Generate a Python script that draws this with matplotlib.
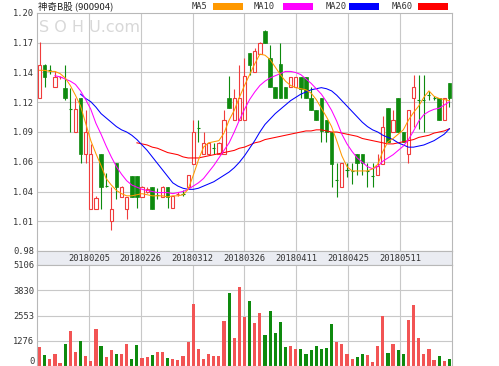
import numpy as np
import matplotlib
matplotlib.use('Agg')
from matplotlib import pyplot as plt
from matplotlib.patches import Rectangle

# daily candles, 81 trading days
opens = [
    1.121, 1.152, 1.148, 1.132, 1.140, 1.131, 1.112, 1.090, 1.121, 1.070,
    1.019, 1.019, 1.070, 1.041, 1.008, 1.061, 1.0295, 1.019, 1.049, 1.049,
    1.0295, 1.035, 1.039, 1.033, 1.030, 1.039, 1.020, 1.032, 1.034, 1.039,
    1.060, 1.095, 1.070, 1.070, 1.076, 1.070, 1.070, 1.121, 1.101, 1.101,
    1.101, 1.163, 1.145, 1.162, 1.183, 1.158, 1.132, 1.153, 1.132, 1.132,
    1.132, 1.141, 1.141, 1.121, 1.110, 1.121, 1.101, 1.090, 1.047, 1.039,
    1.056, 1.055, 1.070, 1.070, 1.055, 1.050, 1.050, 1.060, 1.112, 1.090,
    1.121, 1.090, 1.070, 1.121, 1.121, 1.121, 1.125, 1.122, 1.121, 1.101,
    1.135]
closes = [
    1.152, 1.141, 1.147, 1.141, 1.141, 1.121, 1.111, 1.111, 1.070, 1.090,
    1.070, 1.029, 1.039, 1.040, 1.019, 1.039, 1.039, 1.0295, 1.0295, 1.0295,
    1.039, 1.037, 1.019, 1.032, 1.039, 1.030, 1.031, 1.033, 1.033, 1.050,
    1.090, 1.094, 1.080, 1.080, 1.075, 1.080, 1.101, 1.112, 1.121, 1.121,
    1.142, 1.152, 1.165, 1.172, 1.172, 1.132, 1.121, 1.121, 1.121, 1.141,
    1.141, 1.130, 1.121, 1.110, 1.101, 1.091, 1.090, 1.060, 1.046, 1.061,
    1.055, 1.054, 1.061, 1.061, 1.054, 1.049, 1.059, 1.095, 1.081, 1.101,
    1.090, 1.081, 1.110, 1.132, 1.120, 1.120, 1.124, 1.1215, 1.101, 1.121,
    1.121]
highs = [
    1.173, 1.153, 1.152, 1.146, 1.142, 1.152, 1.131, 1.121, 1.121, 1.110,
    1.079, 1.031, 1.070, 1.052, 1.039, 1.061, 1.040, 1.030, 1.049, 1.049,
    1.040, 1.039, 1.039, 1.038, 1.040, 1.039, 1.031, 1.035, 1.036, 1.050,
    1.101, 1.101, 1.090, 1.080, 1.080, 1.081, 1.110, 1.142, 1.130, 1.152,
    1.158, 1.163, 1.168, 1.173, 1.184, 1.170, 1.132, 1.172, 1.132, 1.141,
    1.141, 1.141, 1.141, 1.132, 1.110, 1.121, 1.101, 1.090, 1.061, 1.061,
    1.061, 1.061, 1.070, 1.070, 1.061, 1.061, 1.070, 1.105, 1.112, 1.110,
    1.121, 1.090, 1.110, 1.143, 1.143, 1.143, 1.128, 1.123, 1.121, 1.121,
    1.135]
lows = [
    1.121, 1.132, 1.144, 1.132, 1.139, 1.120, 1.090, 1.090, 1.061, 1.061,
    1.019, 1.019, 1.019, 1.039, 0.999, 1.028, 1.0295, 1.010, 1.0295, 1.020,
    1.0295, 1.034, 1.019, 1.028, 1.030, 1.020, 1.020, 1.031, 1.031, 1.039,
    1.060, 1.081, 1.070, 1.070, 1.070, 1.070, 1.070, 1.112, 1.101, 1.101,
    1.101, 1.143, 1.145, 1.162, 1.172, 1.132, 1.121, 1.121, 1.121, 1.132,
    1.132, 1.121, 1.121, 1.110, 1.101, 1.081, 1.081, 1.039, 1.030, 1.039,
    1.048, 1.042, 1.050, 1.050, 1.039, 1.039, 1.050, 1.060, 1.081, 1.090,
    1.090, 1.081, 1.061, 1.095, 1.093, 1.090, 1.120, 1.120, 1.101, 1.101,
    1.113]
volumes = [
    960, 560, 340, 625, 170, 1100, 1775, 710, 1270, 510,
    255, 1860, 1015, 455, 795, 590, 590, 1100, 340, 1050,
    420, 455, 560, 710, 710, 420, 340, 290, 510, 1220,
    3130, 880, 340, 625, 510, 510, 2280, 3670, 1440, 4005,
    2485, 3300, 2150, 2680, 1590, 2770, 1690, 2230, 960, 1000,
    845, 845, 630, 795, 1000, 880, 930, 2110, 1215, 1100,
    590, 340, 455, 630, 575, 200, 1030, 2530, 680, 1135,
    795, 630, 2310, 3070, 1420, 630, 880, 290, 490, 240,
    375]
# 1 = up day (red volume bar), 0 = down day (green)
vol_up = [
    1, 0, 1, 1, 1, 0, 1, 1, 0, 1,
    1, 1, 0, 1, 1, 0, 1, 1, 0, 0,
    1, 1, 0, 1, 1, 0, 1, 1, 1, 1,
    1, 1, 1, 1, 1, 1, 1, 0, 1, 1,
    1, 0, 1, 1, 0, 0, 0, 0, 0, 1,
    1, 0, 0, 0, 0, 0, 0, 0, 1, 1,
    1, 1, 0, 0, 1, 1, 1, 1, 0, 1,
    0, 0, 1, 1, 1, 1, 1, 1, 0, 1,
    0]

ma5 = [
    1.147, 1.147, 1.146, 1.146, 1.144, 1.140, 1.133, 1.124, 1.114, 1.098,
    1.082, 1.070, 1.059, 1.047, 1.041, 1.036, 1.033, 1.031, 1.031, 1.032,
    1.033, 1.032, 1.031, 1.031, 1.031, 1.030, 1.031, 1.031, 1.032, 1.037,
    1.050, 1.064, 1.076, 1.080, 1.081, 1.082, 1.089, 1.101, 1.110, 1.122,
    1.133, 1.143, 1.153, 1.162, 1.161, 1.157, 1.150, 1.143, 1.137, 1.133,
    1.131, 1.130, 1.129, 1.126, 1.120, 1.112, 1.104, 1.095, 1.082, 1.068,
    1.058, 1.054, 1.054, 1.054, 1.054, 1.056, 1.060, 1.072, 1.081, 1.084,
    1.088, 1.092, 1.101, 1.108, 1.114, 1.122, 1.128, 1.123, 1.121, 1.120,
    1.119]
ma10 = [None] * 3 + [
    1.142, 1.141, 1.139, 1.137, 1.134, 1.128, 1.120,
    1.111, 1.098, 1.088, 1.077, 1.067, 1.058, 1.051, 1.045, 1.041, 1.039,
    1.037, 1.036, 1.035, 1.034, 1.034, 1.034, 1.033, 1.034, 1.035, 1.037,
    1.040, 1.043, 1.047, 1.053, 1.059, 1.066, 1.073, 1.080, 1.090, 1.101,
    1.111, 1.120, 1.127, 1.133, 1.137, 1.140, 1.142, 1.144, 1.146, 1.146,
    1.145, 1.143, 1.139, 1.135, 1.130, 1.125, 1.118, 1.110, 1.100, 1.088,
    1.079, 1.072, 1.066, 1.062, 1.058, 1.056, 1.058, 1.063, 1.066, 1.069,
    1.073, 1.077, 1.083, 1.091, 1.100, 1.106, 1.109, 1.111, 1.112, 1.115,
    1.118]
ma20 = [None] * 8 + [
    1.125, 1.121,
    1.118, 1.113, 1.107, 1.103, 1.099, 1.095, 1.092, 1.090, 1.087, 1.083,
    1.078, 1.073, 1.067, 1.061, 1.055, 1.049, 1.043, 1.040, 1.038, 1.037,
    1.037, 1.038, 1.040, 1.042, 1.044, 1.047, 1.050, 1.053, 1.057, 1.062,
    1.068, 1.075, 1.082, 1.090, 1.097, 1.102, 1.107, 1.111, 1.115, 1.119,
    1.122, 1.125, 1.127, 1.129, 1.130, 1.131, 1.130, 1.128, 1.124, 1.119,
    1.114, 1.109, 1.104, 1.099, 1.095, 1.092, 1.090, 1.087, 1.085, 1.083,
    1.080, 1.078, 1.076, 1.076, 1.077, 1.078, 1.080, 1.082, 1.085, 1.088,
    1.093]
ma60 = [None] * 19 + [
    1.080,
    1.079, 1.078, 1.076, 1.075, 1.073, 1.071, 1.070, 1.069, 1.067, 1.066,
    1.066, 1.066, 1.067, 1.068, 1.069, 1.070, 1.071, 1.072, 1.073, 1.075,
    1.076, 1.078, 1.080, 1.081, 1.083, 1.084, 1.085, 1.086, 1.087, 1.088,
    1.089, 1.090, 1.091, 1.091, 1.092, 1.092, 1.091, 1.090, 1.090, 1.089,
    1.088, 1.087, 1.086, 1.084, 1.083, 1.082, 1.081, 1.080, 1.079, 1.079,
    1.080, 1.081, 1.082, 1.083, 1.085, 1.086, 1.087, 1.089, 1.090, 1.091,
    1.093]

price_ticks = [0.98, 1.0075, 1.035, 1.0625, 1.09, 1.1175, 1.145, 1.1725, 1.20]
price_labels = ['0.98', '1.01', '1.04', '1.06', '1.09', '1.12', '1.14', '1.17', '1.20']
vol_ticks = [0, 1276, 2553, 3830, 5106]
vol_labels = ['0', '1276', '2553', '3830', '5106']
date_labels = ['20180205', '20180226', '20180312', '20180326',
               '20180411', '20180425', '20180511']

ma_names = ['MA5', 'MA10', 'MA20', 'MA60']
ma_colors = ['#ff9900', '#ff00ff', '#0000ff', '#ff0000']

RED = '#f03c3c'
VRED = '#f25454'
GREEN = '#0e8a0e'
GRID = '#c8c8c8'
mono = 'DejaVu Sans Mono'

W, H = 499, 366
fig = plt.figure(figsize=(W / 100, H / 100), dpi=100)

def px_axes(x0, y0, x1, y1):
    return fig.add_axes([x0 / W, 1 - y1 / H, (x1 - x0) / W, (y1 - y0) / H])

n = len(closes)
x = np.arange(n)
xlim = (-0.5, n - 0.5)
grid_x = [-0.5 + k * n / 8 for k in range(1, 8)]

# ---- price panel
ax = px_axes(37, 13, 452, 251)
ax.set_xlim(*xlim)
ax.set_ylim(0.98, 1.20)
for gy in price_ticks[1:-1]:
    ax.axhline(gy, color=GRID, lw=0.8, zorder=0)
for gx in grid_x:
    ax.axvline(gx, color=GRID, lw=0.8, zorder=0)

for i in range(n):
    o, c, h, l = opens[i], closes[i], highs[i], lows[i]
    if abs(c - o) < 0.002:
        col = RED if c > o else GREEN
        ax.vlines(i, l, h, color=col, lw=0.8, zorder=2)
        ax.hlines(c, i - 0.3, i + 0.3, color=col, lw=0.8, zorder=2)
    elif c > o:
        ax.vlines(i, l, h, color=RED, lw=0.8, zorder=2)
        ax.add_patch(Rectangle((i - 0.32, o), 0.64, c - o, facecolor='white',
                               edgecolor=RED, lw=0.8, zorder=3))
    else:
        ax.vlines(i, l, h, color=GREEN, lw=0.8, zorder=2)
        ax.add_patch(Rectangle((i - 0.35, c), 0.7, o - c, facecolor=GREEN,
                               edgecolor=GREEN, lw=0.5, zorder=3))

for vals, col in zip([ma60, ma20, ma10, ma5], ma_colors[::-1]):
    ax.plot(x, np.array(vals, dtype=float), color=col, lw=0.75, zorder=4)

ax.set_xticks([])
ax.set_yticks(price_ticks)
ax.set_yticklabels(price_labels, family=mono, fontsize=6.3, color='#333333')
ax.tick_params(axis='y', length=0, pad=2)
for s in ax.spines.values():
    s.set_color('#b8b8b8')
    s.set_linewidth(0.8)

# ---- date band
axd = px_axes(37, 251, 452, 265)
axd.set_xlim(*xlim)
axd.set_ylim(0, 1)
axd.set_facecolor('#eaecf2')
axd.set_xticks([])
axd.set_yticks([])
for gx, lab in zip(grid_x, date_labels):
    axd.text(gx, 0.45, lab, ha='center', va='center', family=mono,
             fontsize=6.3, color='#333333')
for s in axd.spines.values():
    s.set_color('#b8b8b8')
    s.set_linewidth(0.8)

# ---- volume panel
axv = px_axes(37, 265, 452, 366)
axv.set_xlim(*xlim)
axv.set_ylim(0, 5106)
for gy in vol_ticks[1:-1]:
    axv.axhline(gy, color=GRID, lw=0.8, zorder=0)
for gx in grid_x:
    axv.axvline(gx, color=GRID, lw=0.8, zorder=0)
axv.bar(x, volumes, width=0.62,
        color=[VRED if u else GREEN for u in vol_up], zorder=2)
axv.set_xticks([])
axv.set_yticks(vol_ticks)
axv.set_yticklabels(vol_labels, family=mono, fontsize=6.3, color='#333333')
axv.tick_params(axis='y', length=0, pad=2)
axv.yaxis.get_major_ticks()[0].label1.set_verticalalignment('bottom')
for s in axv.spines.values():
    s.set_color('#b8b8b8')
    s.set_linewidth(0.8)

# ---- header: title, legend, watermark (pixel coordinates)
top = fig.add_axes([0, 0, 1, 1], facecolor='none')
top.set_xlim(0, W)
top.set_ylim(H, 0)
top.axis('off')
top.text(38, 6.5, '神奇B股 (900904)', family=['Noto Sans CJK SC', 'DejaVu Sans'],
         fontsize=6.8, va='center', ha='left', color='#222222')
leg_x = [192, 254, 326, 392]
box_x = [213, 283, 349, 418]
for name, col, tx, bx in zip(ma_names, ma_colors, leg_x, box_x):
    top.text(tx, 6.5, name, family=mono, fontsize=6.3, va='center', ha='left',
             color='#333333')
    top.add_patch(Rectangle((bx, 2.5), 30, 7, facecolor=col, edgecolor='none'))
top.text(39, 28, 'S O H U.com', fontsize=11.5, color='#d8d8d8', va='center',
         ha='left', zorder=0)

fig.savefig('out.png', dpi=100)
